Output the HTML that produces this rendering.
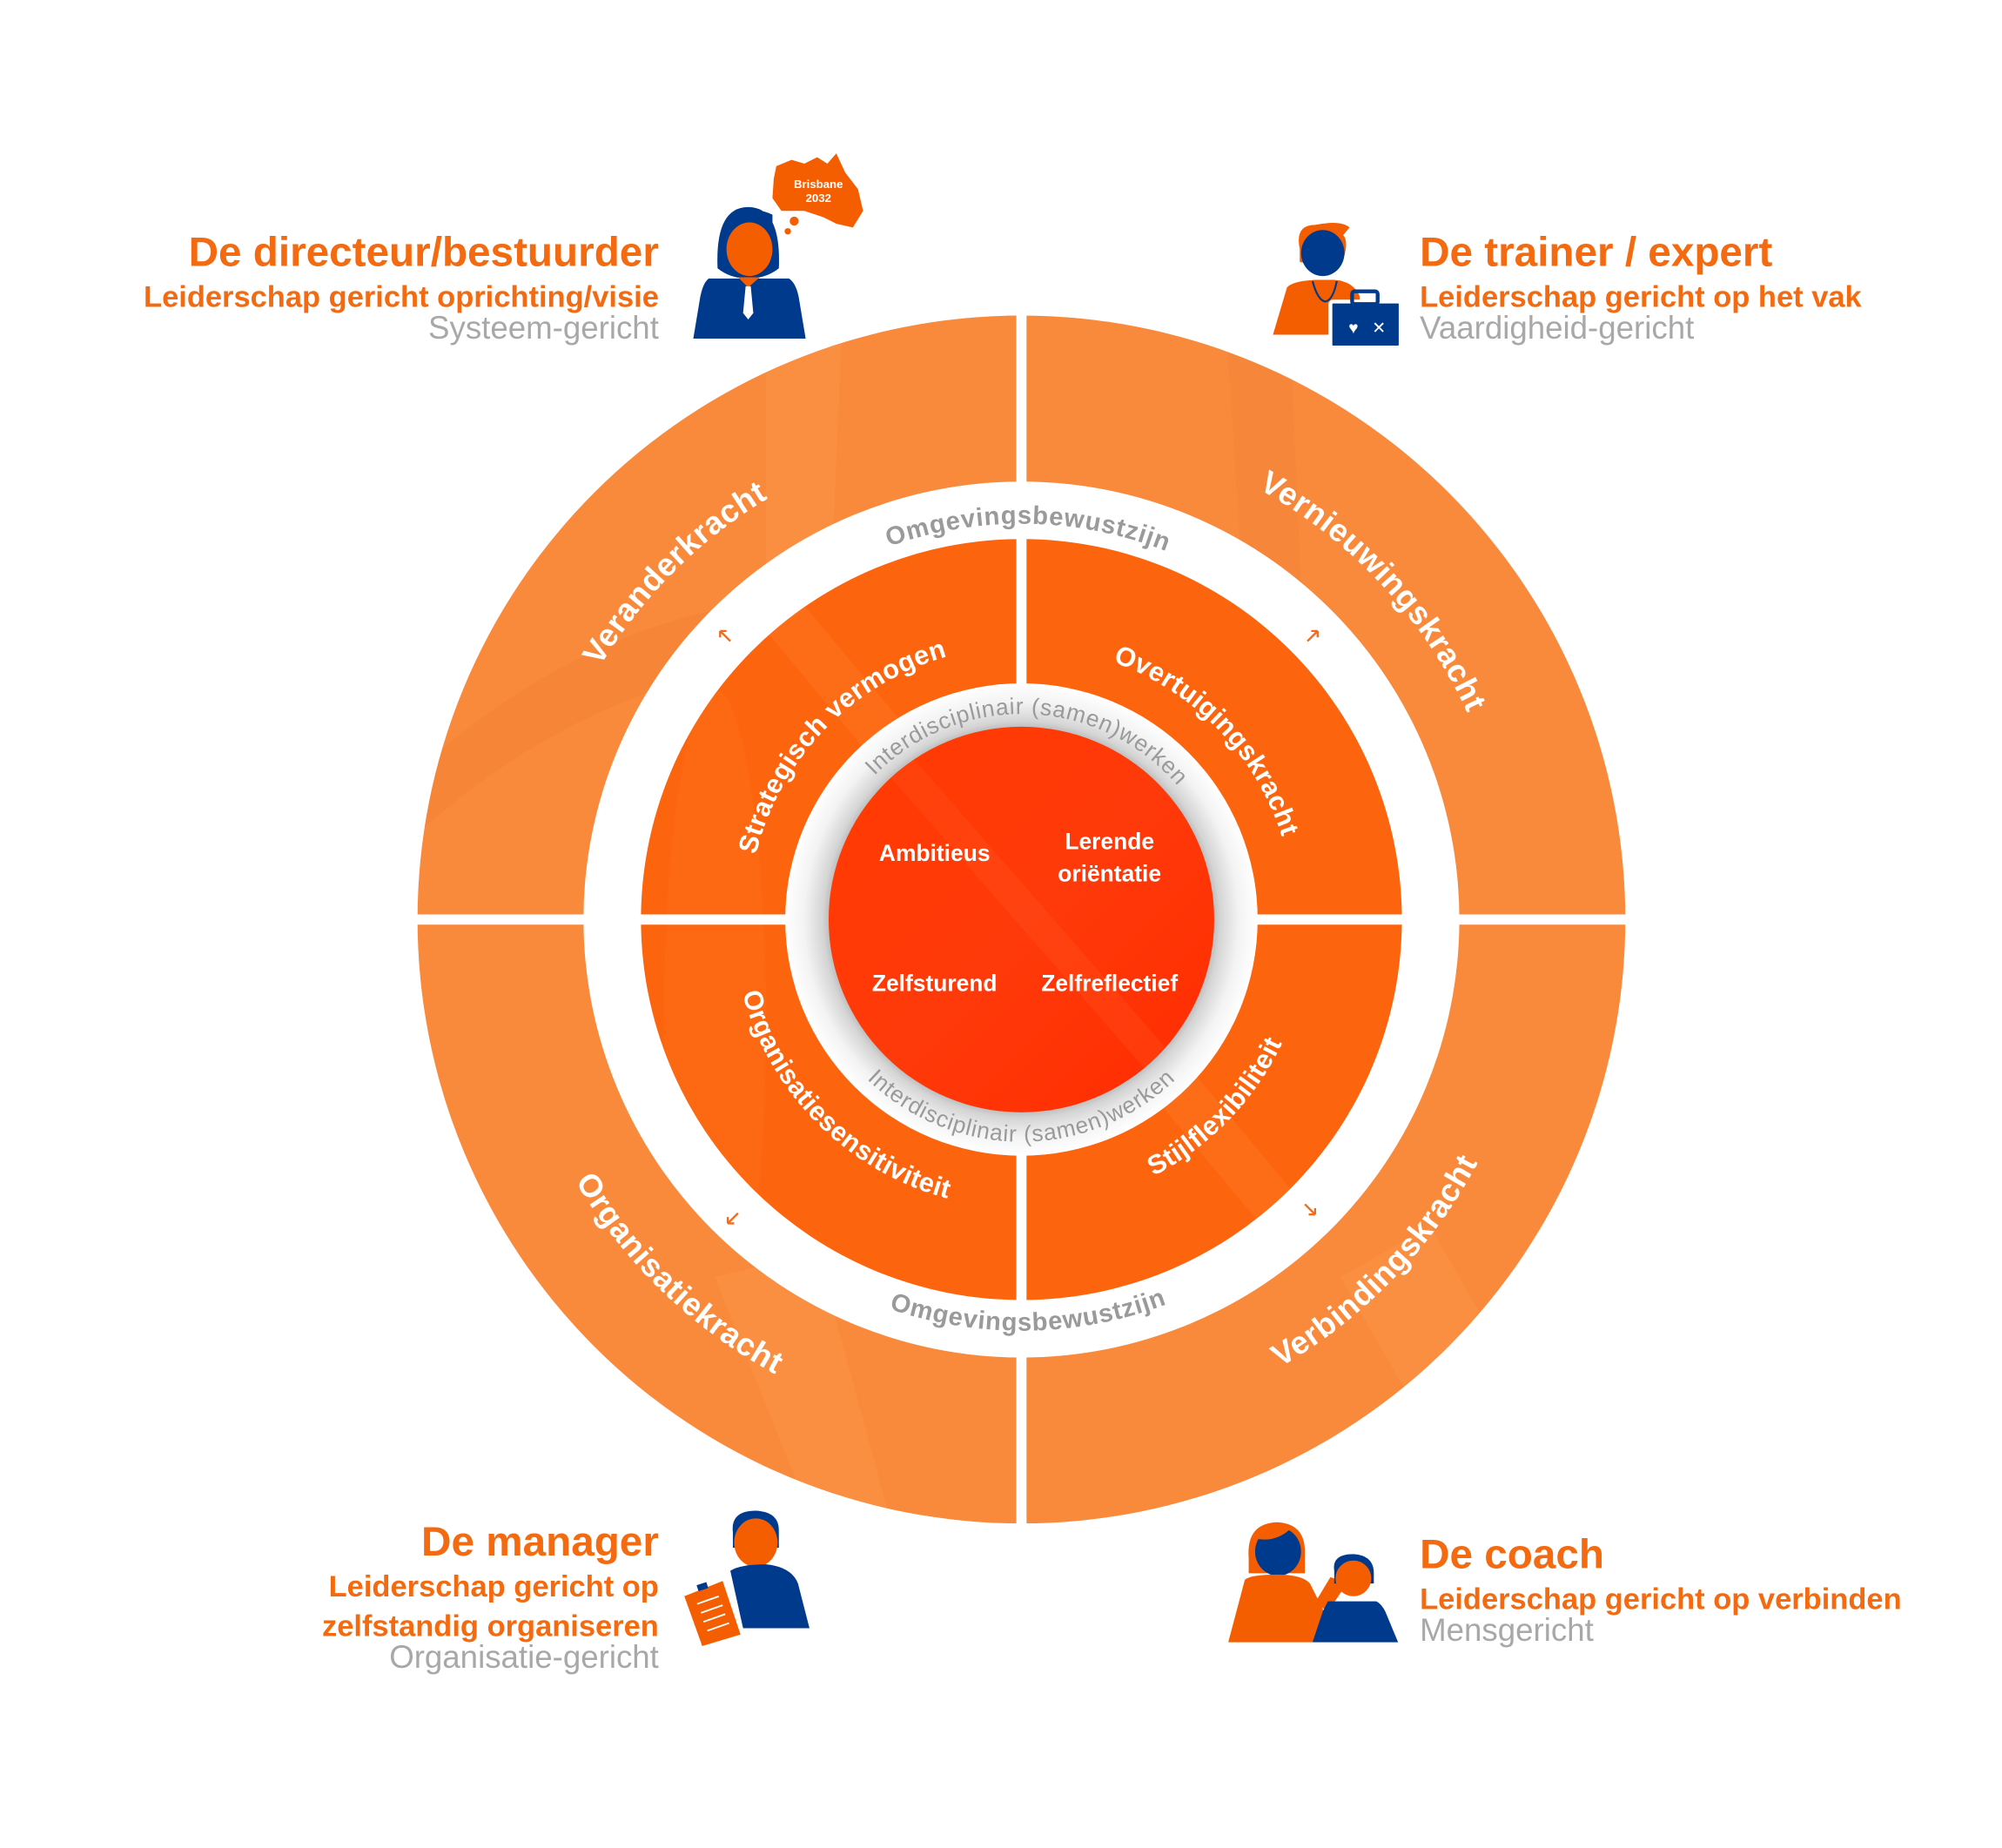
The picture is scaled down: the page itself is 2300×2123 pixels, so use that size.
<!DOCTYPE html>
<html><head><meta charset="utf-8"><style>
html,body{margin:0;padding:0;background:#fff}
svg{display:block}
text{font-family:"Liberation Sans",sans-serif}
</style></head><body>
<svg width="2300" height="2123" viewBox="0 0 1568 1447" xmlns="http://www.w3.org/2000/svg">
<defs>
<radialGradient id="sh" cx="800" cy="720" r="185" gradientUnits="userSpaceOnUse">
<stop offset="0" stop-color="#bbb"/><stop offset="0.81" stop-color="#bbb"/>
<stop offset="0.84" stop-color="#d4d4d4"/><stop offset="0.92" stop-color="#f3f3f3"/><stop offset="1" stop-color="#fff"/>
</radialGradient>
<linearGradient id="cg" x1="0" y1="0" x2="1" y2="1">
<stop offset="0" stop-color="#ff3a00"/><stop offset="0.5" stop-color="#ff3a0a"/><stop offset="1" stop-color="#ff2c00"/>
</linearGradient>
<clipPath id="outerClip"><circle cx="800" cy="720" r="473"/></clipPath>
<clipPath id="innerClip"><circle cx="800" cy="720" r="298"/></clipPath>
<clipPath id="cClip"><circle cx="800" cy="720" r="151"/></clipPath>
<path id="cw385" d="M415,720 A385,385 0 1 1 1185,720 A385,385 0 1 1 415,720"/>
<path id="ccw405" d="M395,720 A405,405 0 1 0 1205,720 A405,405 0 1 0 395,720"/>
<path id="cw310" d="M490,720 A310,310 0 1 1 1110,720 A310,310 0 1 1 490,720"/>
<path id="ccw322" d="M478,720 A322,322 0 1 0 1122,720 A322,322 0 1 0 478,720"/>
<path id="cw214" d="M586,720 A214,214 0 1 1 1014,720 A214,214 0 1 1 586,720"/>
<path id="ccw226" d="M574,720 A226,226 0 1 0 1026,720 A226,226 0 1 0 574,720"/>
<path id="cw161" d="M639,720 A161,161 0 1 1 961,720 A161,161 0 1 1 639,720"/>
<path id="ccw174" d="M626,720 A174,174 0 1 0 974,720 A174,174 0 1 0 626,720"/>
</defs>

<circle cx="800" cy="720" r="473" fill="#f98a3c"/>
<g clip-path="url(#outerClip)">
<path d="M600,240 L660,240 L640,720 L600,720 Z" fill="#ffa050" opacity="0.25"/>
<path d="M330,600 Q500,450 700,470 L700,520 Q500,500 330,650 Z" fill="#ee7a30" opacity="0.3"/>
<path d="M960,250 L1010,250 L1030,720 L990,720 Z" fill="#ee7a30" opacity="0.25"/>
<path d="M560,1000 L640,980 L700,1200 L640,1200 Z" fill="#ffa050" opacity="0.25"/>
<path d="M1050,1000 L1120,960 L1200,1100 L1130,1140 Z" fill="#ffa050" opacity="0.25"/>
</g>
<circle cx="800" cy="720" r="343" fill="#fff"/>
<circle cx="800" cy="720" r="298" fill="#fd640e"/>
<g clip-path="url(#innerClip)">
<path d="M580,470 L610,450 L1060,990 L1030,1010 Z" fill="#ff8a3a" opacity="0.2"/>
<ellipse cx="560" cy="800" rx="40" ry="260" fill="#ff7a25" opacity="0.2"/>
</g>
<rect x="796" y="240" width="8" height="960" fill="#fff"/>
<rect x="320" y="716" width="960" height="8" fill="#fff"/>
<circle cx="800" cy="720" r="185" fill="url(#sh)"/>
<circle cx="800" cy="720" r="151" fill="url(#cg)"/>
<g clip-path="url(#cClip)"><path d="M690,600 L712,590 L930,840 L908,850 Z" fill="#ff6a30" opacity="0.18"/></g>

<g font-size="25" font-weight="bold" fill="#fff" letter-spacing="0.5">
<text transform="rotate(-45 800 720)"><textPath href="#cw385" startOffset="25%" text-anchor="middle">Veranderkracht</textPath></text>
<text transform="rotate(47 800 720)"><textPath href="#cw385" startOffset="25%" text-anchor="middle">Vernieuwingskracht</textPath></text>
<text transform="rotate(-46 800 720)"><textPath href="#ccw405" startOffset="25%" text-anchor="middle">Verbindingskracht</textPath></text>
<text transform="rotate(44 800 720)"><textPath href="#ccw405" startOffset="25%" text-anchor="middle">Organisatiekracht</textPath></text>
</g>
<g font-size="20" font-weight="bold" fill="#9a9a9a" letter-spacing="0.6">
<text transform="rotate(1 800 720)"><textPath href="#cw310" startOffset="25%" text-anchor="middle">Omgevingsbewustzijn</textPath></text>
<text transform="rotate(-1 800 720)"><textPath href="#ccw322" startOffset="25%" text-anchor="middle">Omgevingsbewustzijn</textPath></text>
</g>
<g font-size="21" font-weight="bold" fill="#fff" letter-spacing="0.3">
<text transform="rotate(-46 800 720)"><textPath href="#cw214" startOffset="25%" text-anchor="middle">Strategisch vermogen</textPath></text>
<text transform="rotate(46 800 720)"><textPath href="#cw214" startOffset="25%" text-anchor="middle">Overtuigingskracht</textPath></text>
<text transform="rotate(-46 800 720)"><textPath href="#ccw226" startOffset="25%" text-anchor="middle">Stijlflexibiliteit</textPath></text>
<text transform="rotate(45 800 720)"><textPath href="#ccw226" startOffset="25%" text-anchor="middle">Organisatiesensitiviteit</textPath></text>
</g>
<g font-size="18" fill="#9a9a9a" letter-spacing="0.6">
<text transform="rotate(2 800 720)"><textPath href="#cw161" startOffset="25%" text-anchor="middle">Interdisciplinair (samen)werken</textPath></text>
<text><textPath href="#ccw174" startOffset="25%" text-anchor="middle">Interdisciplinair (samen)werken</textPath></text>
</g>
<g font-size="18" font-weight="bold" fill="#fff" text-anchor="middle">
<text x="732" y="674">Ambitieus</text>
<text x="869" y="665">Lerende</text>
<text x="869" y="690">oriëntatie</text>
<text x="732" y="776">Zelfsturend</text>
<text x="869" y="776">Zelfreflectief</text>
</g>
<g stroke="#f26a1b" stroke-width="1.6" fill="none">
<path d="M572,502 L564,494 M564,494 L564,499 M564,494 L569,494"/>
<path d="M1024,502 L1032,494 M1032,494 L1032,499 M1032,494 L1027,494"/>
<path d="M578,950 L570,958 M570,958 L570,953 M570,958 L575,958"/>
<path d="M1022,943 L1030,951 M1030,951 L1030,946 M1030,951 L1025,951"/>
</g>

<g fill="#f36a10">
<text x="516" y="208" font-size="32.5" font-weight="bold" text-anchor="end">De directeur/bestuurder</text>
<text x="516" y="240" font-size="23.5" font-weight="bold" text-anchor="end">Leiderschap gericht oprichting/visie</text>
<text x="1112" y="208" font-size="32.5" font-weight="bold">De trainer / expert</text>
<text x="1112" y="240" font-size="23.5" font-weight="bold">Leiderschap gericht op het vak</text>
<text x="516" y="1218" font-size="32.5" font-weight="bold" text-anchor="end">De manager</text>
<text x="516" y="1250" font-size="23.5" font-weight="bold" text-anchor="end">Leiderschap gericht op</text>
<text x="516" y="1281" font-size="23.5" font-weight="bold" text-anchor="end">zelfstandig organiseren</text>
<text x="1112" y="1228" font-size="32.5" font-weight="bold">De coach</text>
<text x="1112" y="1260" font-size="23.5" font-weight="bold">Leiderschap gericht op verbinden</text>
</g>
<g fill="#a8a8a8" font-size="25">
<text x="516" y="265" text-anchor="end">Systeem-gericht</text>
<text x="1112" y="265">Vaardigheid-gericht</text>
<text x="516" y="1306" text-anchor="end">Organisatie-gericht</text>
<text x="1112" y="1285">Mensgericht</text>
</g>

<g>
<path d="M608,130 L620,125 L630,128 L640,123 L648,128 L655,120 L662,135 L672,148 L676,165 L668,178 L655,175 L645,170 L630,165 L612,165 L605,155 L606,140 Z" fill="#f55e00"/>
<text x="641" y="147" font-size="9" font-weight="bold" fill="#fff" text-anchor="middle">Brisbane</text>
<text x="641" y="158" font-size="9" font-weight="bold" fill="#fff" text-anchor="middle">2032</text>
<circle cx="622" cy="173" r="3.5" fill="#f55e00"/>
<circle cx="617" cy="181" r="2.5" fill="#f55e00"/>
<path d="M562,210 Q560,162 586,162 Q612,162 610,210 Q600,218 586,218 Q572,218 562,210 Z" fill="#003a8c"/>
<ellipse cx="587" cy="195" rx="18" ry="21" fill="#f55e00"/>
<path d="M572,180 Q580,170 590,170 Q600,172 605,185 L605,168 Q590,160 570,172 Z" fill="#003a8c"/>
<path d="M555,218 L618,218 Q624,222 626,235 L631,265 L543,265 L548,235 Q550,222 555,218 Z" fill="#003a8c"/>
<path d="M578,217 L595,217 L586,225 Z" fill="#f55e00"/>
<path d="M584,224 L588,224 L590,245 L586,250 L582,245 Z" fill="#fff"/>
</g>
<g>
<path d="M1018,195 Q1014,176 1030,176 Q1050,172 1057,178 L1052,184 Q1056,188 1053,200 Q1040,210 1018,205 Z" fill="#f55e00"/>
<ellipse cx="1036" cy="198" rx="17" ry="18" fill="#003a8c"/>
<path d="M1008,225 Q1012,220 1030,219 L1045,219 Q1060,220 1065,232 L1065,262 L997,262 Z" fill="#f55e00"/>
<path d="M1028,220 Q1032,235 1038,236 Q1044,235 1047,220" stroke="#003a8c" stroke-width="1.5" fill="none"/>
<rect x="1042" y="236" width="55" height="36" rx="2" fill="#003a8c" stroke="#fff" stroke-width="3"/>
<rect x="1059" y="228" width="20" height="10" rx="2" fill="none" stroke="#003a8c" stroke-width="3"/>
<text x="1060" y="261" font-size="13" fill="#fff" text-anchor="middle">♥</text>
<text x="1080" y="261" font-size="13" fill="#fff" text-anchor="middle">✕</text>
</g>
<g>
<path d="M574,1200 Q572,1183 592,1183 Q610,1184 610,1198 L610,1212 L574,1212 Z" fill="#003a8c"/>
<ellipse cx="592" cy="1208" rx="17" ry="19" fill="#f55e00"/>
<path d="M572,1230 Q580,1225 600,1225 Q620,1227 625,1240 L634,1275 L582,1275 Z" fill="#003a8c"/>
<path d="M536,1250 L566,1238 L580,1280 L550,1289 Z" fill="#f55e00"/>
<rect x="546" y="1240" width="8" height="5" fill="#003a8c" transform="rotate(-18 550 1242)"/>
<g stroke="#fff" stroke-width="1.3"><path d="M546,1256 L563,1250 M549,1263 L566,1257 M551,1270 L568,1264 M554,1277 L571,1271"/></g>
</g>
<g>
<path d="M978,1220 Q976,1193 1000,1192 Q1022,1193 1022,1215 L1022,1232 L978,1232 Z" fill="#f55e00"/>
<ellipse cx="1001" cy="1215" rx="18" ry="19" fill="#003a8c"/>
<path d="M984,1205 Q1000,1208 1012,1196 Q1004,1190 990,1195 Z" fill="#f55e00"/>
<path d="M975,1237 Q980,1233 1000,1233 Q1020,1233 1026,1240 L1040,1268 L1028,1286 L962,1286 Z" fill="#f55e00"/>
<path d="M1030,1255 L1042,1235 L1055,1240 L1040,1262 Z" fill="#f55e00"/>
<path d="M1045,1230 Q1043,1217 1060,1217 Q1076,1218 1076,1232 L1076,1240 L1045,1240 Z" fill="#003a8c"/>
<ellipse cx="1060" cy="1236" rx="14" ry="14" fill="#f55e00"/>
<path d="M1040,1254 L1078,1254 Q1082,1256 1085,1262 L1095,1286 L1028,1286 L1036,1262 Z" fill="#003a8c"/>
</g>
</svg>
</body></html>
